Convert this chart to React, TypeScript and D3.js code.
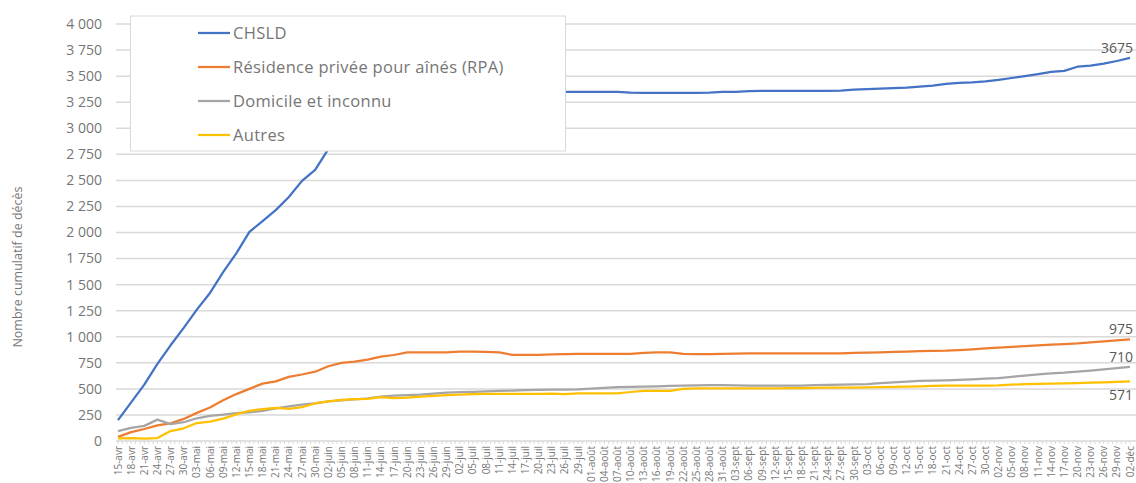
import React, { useEffect, useRef } from 'react'
import * as d3 from 'd3'

// one value every 3 days, 15-avr -> 02-déc
const dateLabels = [
  '15-avr', '18-avr', '21-avr', '24-avr', '27-avr', '30-avr', '03-mai', '06-mai', '09-mai', '12-mai',
  '15-mai', '18-mai', '21-mai', '24-mai', '27-mai', '30-mai', '02-juin', '05-juin', '08-juin', '11-juin',
  '14-juin', '17-juin', '20-juin', '23-juin', '26-juin', '29-juin', '02-juil', '05-juil', '08-juil', '11-juil',
  '14-juil', '17-juil', '20-juil', '23-juil', '26-juil', '29-juil', '01-août', '04-août', '07-août', '10-août',
  '13-août', '16-août', '19-août', '22-août', '25-août', '28-août', '31-août', '03-sept', '06-sept', '09-sept',
  '12-sept', '15-sept', '18-sept', '21-sept', '24-sept', '27-sept', '30-sept', '03-oct', '06-oct', '09-oct',
  '12-oct', '15-oct', '18-oct', '21-oct', '24-oct', '27-oct', '30-oct', '02-nov', '05-nov', '08-nov',
  '11-nov', '14-nov', '17-nov', '20-nov', '23-nov', '26-nov', '29-nov', '02-déc',
]

const chsld = [
  200, 370, 541, 740, 918, 1085, 1260, 1420, 1620, 1800,
  2006, 2110, 2215, 2340, 2495, 2600, 2800, 2860, 2930, 3000,
  3070, 3130, 3180, 3220, 3255, 3280, 3300, 3315, 3325, 3335,
  3340, 3345, 3347, 3348, 3350, 3350, 3350, 3350, 3350, 3342,
  3340, 3340, 3340, 3340, 3340, 3342, 3350, 3350, 3355, 3358,
  3358, 3358, 3358, 3358, 3358, 3360, 3370, 3375, 3380, 3385,
  3390, 3400, 3410, 3425, 3435, 3440, 3450, 3465, 3482, 3500,
  3520, 3540, 3550, 3590, 3600, 3620, 3645, 3675,
]

const rpa = [
  40, 85, 115, 150, 170, 212, 270, 322, 390, 450,
  500, 550, 572, 615, 638, 665, 717, 750, 761, 780,
  809, 825, 851, 851, 851, 851, 857, 857, 855, 851,
  826, 825, 825, 832, 834, 835, 835, 835, 835, 835,
  845, 851, 851, 835, 834, 834, 835, 838, 840, 840,
  840, 840, 840, 840, 840, 841, 845, 848, 851, 855,
  858, 862, 864, 866, 872, 880, 888, 895, 903, 910,
  917, 924, 930, 936, 945, 955, 965, 975,
]

const domicile = [
  95, 125, 145, 205, 162, 180, 218, 240, 252, 267,
  275, 290, 312, 332, 348, 362, 379, 390, 400, 410,
  426, 436, 440, 445, 455, 463, 468, 472, 476, 480,
  484, 488, 490, 492, 494, 495, 502, 510, 516, 519,
  521, 524, 528, 532, 534, 537, 537, 533, 531, 531,
  531, 531, 531, 537, 538, 540, 542, 546, 555, 562,
  570, 576, 579, 582, 587, 592, 598, 604, 615, 628,
  640, 648, 655, 665, 676, 688, 700, 710,
]

const autres = [
  25, 27, 22, 28, 95, 122, 172, 185, 215, 255,
  290, 305, 318, 308, 325, 360, 380, 395, 402, 405,
  420, 412, 415, 425, 432, 441, 446, 450, 451, 451,
  451, 451, 452, 455, 450, 457, 457, 457, 457, 470,
  480, 480, 481, 500, 505, 505, 505, 505, 505, 505,
  505, 507, 508, 510, 511, 512, 513, 515, 517, 519,
  521, 525, 529, 530, 531, 531, 531, 533, 540, 545,
  548, 551, 553, 556, 560, 563, 566, 571,
]

const seriesNames = ['CHSLD', 'Résidence privée pour aînés (RPA)', 'Domicile et inconnu', 'Autres']
const seriesColors = ['#4472C4', '#ED7D31', '#A5A5A5', '#FFC000']
const yTicks = [0, 250, 500, 750, 1000, 1250, 1500, 1750, 2000, 2250, 2500, 2750, 3000, 3250, 3500, 3750, 4000]

const STEP = 3
const FONT = '"Open Sans", "DejaVu Sans", sans-serif'
const TEXT = '#767676'

export default function App() {
  const ref = useRef<SVGSVGElement>(null)

  useEffect(() => {
    const svg = d3.select(ref.current)
    svg.selectAll('*').remove()

    const lastDay = (dateLabels.length - 1) * STEP
    const x = d3.scaleLinear().domain([0, lastDay]).range([118, 1130])
    const y = d3.scaleLinear().domain([0, 4000]).range([441, 24])
    const fr = d3.formatLocale({ decimal: ',', thousands: ' ', grouping: [3], currency: ['', ' €'] })
    const fmt = fr.format(',d')

    // gridlines
    svg.append('g')
      .selectAll('line')
      .data(yTicks.filter(d => d > 0))
      .enter()
      .append('line')
        .attr('x1', 116)
        .attr('x2', 1136)
        .attr('y1', d => y(d))
        .attr('y2', d => y(d))
        .style('stroke', '#d9d9d9')
        .style('stroke-width', 1.5)

    // y labels
    svg.append('g')
      .selectAll('text')
      .data(yTicks)
      .enter()
      .append('text')
        .attr('x', 102)
        .attr('y', d => y(d))
        .attr('dy', '0.35em')
        .attr('text-anchor', 'end')
        .style('font-family', FONT)
        .style('font-size', '14px')
        .style('fill', TEXT)
        .text(d => fmt(d))

    // x axis line + daily minor ticks
    svg.append('line')
      .attr('x1', 116).attr('x2', 1136)
      .attr('y1', y(0)).attr('y2', y(0))
      .style('stroke', '#d9d9d9')
      .style('stroke-width', 1.5)

    svg.append('g')
      .selectAll('line')
      .data(d3.range(0, lastDay + 1))
      .enter()
      .append('line')
        .attr('x1', d => x(d)).attr('x2', d => x(d))
        .attr('y1', y(0)).attr('y2', y(0) + 3)
        .style('stroke', '#d9d9d9')
        .style('stroke-width', 1)

    svg.append('g')
      .selectAll('text')
      .data(dateLabels)
      .enter()
      .append('text')
        .attr('transform', (d, i) => `translate(${x(i * STEP)}, 446) rotate(-90)`)
        .attr('text-anchor', 'end')
        .attr('dy', '0.35em')
        .style('font-family', FONT)
        .style('font-size', '10px')
        .style('fill', TEXT)
        .text(d => d)

    // axis title
    svg.append('text')
      .attr('transform', 'translate(18, 267) rotate(-90)')
      .attr('text-anchor', 'middle')
      .attr('dy', '0.35em')
      .style('font-family', FONT)
      .style('font-size', '12.5px')
      .style('fill', TEXT)
      .text('Nombre cumulatif de décès')

    // lines
    const line = d3.line<number>()
      .x((d, i) => x(i * STEP))
      .y(d => y(d))

    const all = [chsld, rpa, domicile, autres]
    svg.append('g')
      .selectAll('path')
      .data(all)
      .enter()
      .append('path')
        .attr('d', d => line(d))
        .style('fill', 'none')
        .style('stroke', (d, i) => seriesColors[i])
        .style('stroke-width', 2.25)
        .style('stroke-linejoin', 'round')

    // end labels
    const endOffsets = [-10, -10, -10, 14]
    svg.append('g')
      .selectAll('text')
      .data(all)
      .enter()
      .append('text')
        .attr('x', 1133)
        .attr('y', (d, i) => y(d[d.length - 1]) + endOffsets[i])
        .attr('dy', '0.35em')
        .attr('text-anchor', 'end')
        .style('font-family', FONT)
        .style('font-size', '14px')
        .style('fill', '#595959')
        .text(d => d[d.length - 1])

    // legend (sits on top of the plot)
    const legend = svg.append('g')
    legend.append('rect')
      .attr('x', 130.5).attr('y', 16)
      .attr('width', 435).attr('height', 135)
      .style('fill', '#fff')
      .style('stroke', '#d9d9d9')
      .style('stroke-width', 1)

    const items = legend.selectAll('g.item')
      .data(seriesNames)
      .enter()
      .append('g')
        .attr('class', 'item')
        .attr('transform', (d, i) => `translate(0, ${33 + i * 34})`)

    items.append('line')
      .attr('x1', 198).attr('x2', 230)
      .attr('y1', 0).attr('y2', 0)
      .style('stroke', (d, i) => seriesColors[i])
      .style('stroke-width', 2.25)

    items.append('text')
      .attr('x', 233)
      .attr('dy', '0.35em')
      .style('font-family', FONT)
      .style('font-size', '16.5px')
      .style('letter-spacing', '0.3px')
      .style('fill', TEXT)
      .text(d => d)
  }, [])

  return (
    <svg
      ref={ref}
      width={1136}
      height={483}
      style={{ position: 'absolute', left: 0, top: 0, background: '#fff' }}
    />
  )
}
